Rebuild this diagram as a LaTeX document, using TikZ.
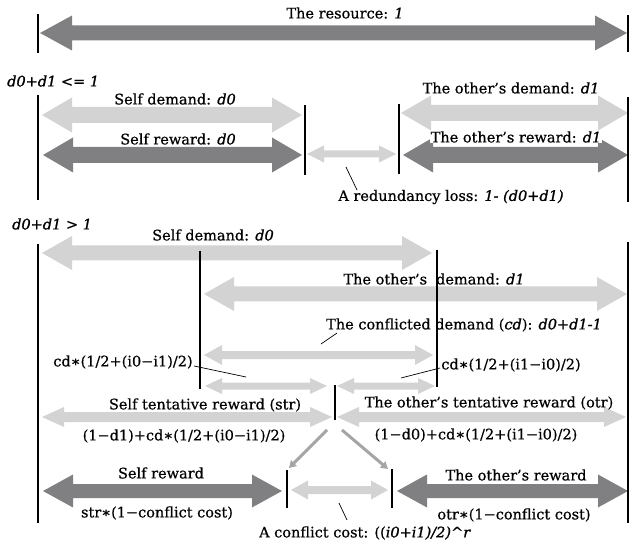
\documentclass[tikz,border=0pt]{standalone}
\usepackage{fontspec}
\setmainfont{DejaVu Serif}[UprightFeatures={FakeBold=0.6},ItalicFeatures={FakeBold=1.2}]
\usetikzlibrary{arrows.meta}
\definecolor{darkg}{RGB}{128,128,131}
\definecolor{lightg}{RGB}{211,211,211}
\definecolor{midg}{RGB}{165,165,165}
\newcommand\dblarrow[7]{%
  \fill[#7] (#1,#3) -- (#1+#6,#3-#5) -- (#1+#6,#3-#4) -- (#2-#6,#3-#4) -- (#2-#6,#3-#5)
   -- (#2,#3) -- (#2-#6,#3+#5) -- (#2-#6,#3+#4) -- (#1+#6,#3+#4) -- (#1+#6,#3+#5) -- cycle;}
\tikzset{
  lbl/.style={inner sep=0pt, font=\fontsize{14.5}{17}\selectfont},
  wlbl/.style={lbl, fill=white, inner xsep=1pt},
  bar/.style={line width=1.3pt, black},
  ptr/.style={line width=0.7pt, black},
  flow/.style={line width=3pt, midg, -{Triangle[length=7pt,width=8pt]}},
}
\begin{document}
\begin{tikzpicture}[x=1pt,y=-1pt]
\useasboundingbox (0,0) rectangle (629,545);
% ---------- top
\dblarrow{40}{627}{33}{7.5}{17.5}{32}{darkg}
\draw[bar] (38,14) -- (38,53);
\draw[bar] (628,15) -- (628,52);
\node[lbl] (res) at (345,13) {The resource: \textit{1}};
% ---------- d0+d1 <= 1
\node[lbl, anchor=west] (cond1) at (7,81) {\textit{d0+d1} <= \textit{1}};
\dblarrow{42}{302}{115}{8}{17.5}{30}{lightg}
\dblarrow{401}{628}{113}{8}{17.5}{30}{lightg}
\dblarrow{43}{302}{155}{8}{17.5}{30}{darkg}
\dblarrow{403}{628}{155}{8}{17.5}{30}{darkg}
\dblarrow{307}{396}{154}{3.5}{8.5}{17}{lightg}
\draw[bar] (38,95) -- (38,200);
\draw[bar] (305,105) -- (305,175);
\draw[bar] (628,97) -- (628,202);
\node[lbl] (sd1) at (175,99) {Self demand: \textit{d0}};
\node[lbl] (od1) at (511,88) {The other’s demand: \textit{d1}};
\node[lbl] (sr1) at (178,139) {Self reward: \textit{d0}};
\node[wlbl] (or1) at (516,137) {The other’s reward: \textit{d1}};
\draw[bar] (399,104) -- (399,174);
\node[lbl] (rl) at (451,197) {A redundancy loss: \textit{1- (d0+d1)}};
\coordinate (rlp) at (346,167);
\coordinate (rlq) at (357,190);
\draw[ptr] (rlp) -- (rlq);
% ---------- d0+d1 > 1
\node[lbl, anchor=west] (cond2) at (12,224) {\textit{d0+d1} > \textit{1}};
\dblarrow{42}{432}{253}{7.5}{17}{30}{lightg}
\dblarrow{204}{627}{294}{7.5}{17}{30}{lightg}
\dblarrow{204}{433}{355}{4}{10}{18}{lightg}
\dblarrow{205}{327}{386}{3.5}{8}{17}{lightg}
\dblarrow{337}{435}{386}{3.5}{8}{17}{lightg}
\dblarrow{42}{332}{417}{5}{10}{22}{lightg}
\dblarrow{337}{626}{417}{5}{10}{22}{lightg}
\dblarrow{43}{282}{491}{7}{16.5}{30}{darkg}
\dblarrow{397}{628}{491}{7}{16.5}{30}{darkg}
\dblarrow{291}{388}{490}{4}{9.5}{17}{lightg}
\node[lbl] (sd2) at (213,235) {Self demand: \textit{d0}};
\node[lbl] (od2) at (434,279) {The other’s\hspace{9pt}demand: \textit{d1}};
\node[lbl] (cdm) at (464,325) {The conflicted demand (\textit{cd}): \textit{d0+d1-1}};
\node[lbl] (cdl) at (123,362) {cd∗(1/2+(i0−i1)/2)};
\node[lbl] (cdr) at (511,365) {cd∗(1/2+(i1−i0)/2)};
\node[lbl] (str) at (205,405) {Self tentative reward (str)};
\node[lbl] (otr) at (489,403) {The other’s tentative reward (otr)};
\node[lbl] (strf) at (184,436) {(1−d1)+cd∗(1/2+(i0−i1)/2)};
\node[lbl] (otrf) at (476,435) {(1−d0)+cd∗(1/2+(i1−i0)/2)};
\node[lbl] (srw) at (161,473) {Self reward};
\node[lbl] (orw) at (516,475) {The other’s reward};
\node[lbl] (srf) at (157,513) {str∗(1−conflict cost)};
\node[lbl] (orf) at (514,515) {otr∗(1−conflict cost)};
\node[lbl] (cc) at (365,533) {A conflict cost: ((\textit{i0+i1)/2)}\^{}\textit{r}};
\draw[bar] (38,244) -- (38,523);
\draw[bar] (200,251) -- (200,389);
\draw[bar] (437,250) -- (437,387);
\draw[bar] (628,242) -- (628,523);
\draw[bar] (335,385) -- (335,420);
\draw[bar] (287,470) -- (287,508);
\draw[bar] (392,469) -- (392,508);
% pointers
\coordinate (cdmp) at (321,344);
\coordinate (cdmq) at (337,333);
\draw[ptr] (cdmp) -- (cdmq);
\coordinate (cdlq) at (194,366);
\coordinate (cdlp) at (246,377);
\draw[ptr] (cdlq) -- (cdlp);
\coordinate (cdrp) at (401,378);
\coordinate (cdrq) at (440,368);
\draw[ptr] (cdrp) -- (cdrq);
\coordinate (ccp) at (339,503);
\coordinate (ccq) at (347,520);
\draw[ptr] (ccp) -- (ccq);
% flows
\coordinate (fs) at (327,430);
\coordinate (fs2) at (342,430);
\coordinate (fl) at (289,468);
\coordinate (fr) at (388,469);
\draw[flow] (fs) -- (fl);
\draw[flow] (fs2) -- (fr);
\end{tikzpicture}
\end{document}
